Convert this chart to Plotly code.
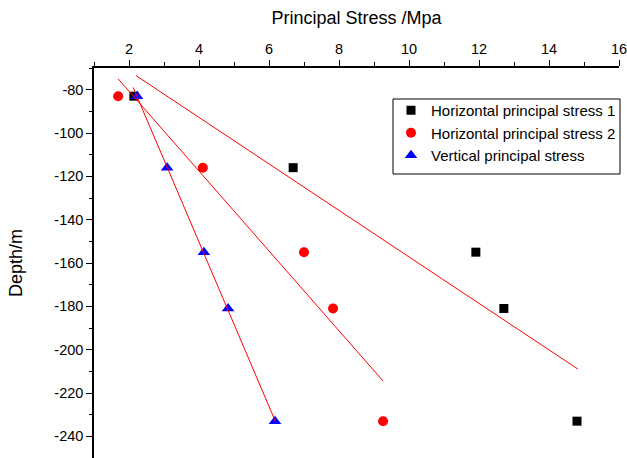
import plotly.graph_objects as go

# ---- data ----
depth = [-83, -116, -155, -181, -233]
h1_stress = [2.14, 6.69, 11.91, 12.71, 14.80]
h2_stress = [1.69, 4.11, 7.00, 7.83, 9.26]
v_stress = [2.23, 3.09, 4.14, 4.83, 6.17]

# fitted trend lines (endpoints)
fit_h1_x = [2.20, 14.83]
fit_h1_y = [-73.5, -209.0]
fit_h2_x = [1.69, 9.26]
fit_h2_y = [-75.0, -214.5]
fit_v_x = [2.12, 6.18]
fit_v_y = [-79.0, -233.0]

series_names = ["Horizontal principal stress 1",
                "Horizontal principal stress 2",
                "Vertical principal stress"]

x_ticks = [2, 4, 6, 8, 10, 12, 14, 16]
y_ticks = [-80, -100, -120, -140, -160, -180, -200, -220, -240]

FONT = "Liberation Sans, Arial, Helvetica, sans-serif"

fig = go.Figure()
fig.add_trace(go.Scatter(x=h1_stress, y=depth, mode="markers", name=series_names[0],
                         marker=dict(symbol="square", size=9, color="#000000")))
fig.add_trace(go.Scatter(x=h2_stress, y=depth, mode="markers", name=series_names[1],
                         marker=dict(symbol="circle", size=10, color="#FF0000")))
fig.add_trace(go.Scatter(x=v_stress, y=depth, mode="markers", name=series_names[2],
                         marker=dict(symbol="triangle-up", size=11, color="#0000FF")))

for fx, fy in [(fit_h1_x, fit_h1_y), (fit_h2_x, fit_h2_y), (fit_v_x, fit_v_y)]:
    fig.add_trace(go.Scatter(x=fx, y=fy, mode="lines", showlegend=False,
                             line=dict(color="#FF0000", width=1), hoverinfo="skip"))

L, R, T, B = 94, 8, 68, 0
W, H = 627, 458
pw, ph = W - L - R, H - T - B

def px_x(p):
    return (p - L) / pw

def px_y(p):
    return (H - B - p) / ph

fig.update_layout(
    width=W, height=H,
    margin=dict(l=L, r=R, t=T, b=B, pad=0, autoexpand=False),
    paper_bgcolor="white", plot_bgcolor="white",
    font=dict(family=FONT, size=14.5, color="black"),
    showlegend=True,
    legend=dict(x=px_x(391), y=px_y(94), xanchor="left", yanchor="top",
                bgcolor="rgba(0,0,0,0)", borderwidth=0,
                font=dict(family=FONT, size=15, color="black"),
                itemwidth=30, tracegroupgap=0),
    shapes=[dict(type="rect", xref="paper", yref="paper",
                 x0=px_x(393), x1=px_x(620), y0=px_y(174), y1=px_y(99),
                 line=dict(color="black", width=1), fillcolor="rgba(0,0,0,0)")],
)

fig.update_xaxes(
    side="top", range=[0.9999, 16.0001], tickvals=x_ticks, ticktext=[str(v) for v in x_ticks],
    ticks="outside", ticklen=6, tickwidth=1.3, tickcolor="black",
    minor=dict(ticks="outside", ticklen=4, tickwidth=1.3, tickcolor="black", dtick=1, tick0=0),
    showline=True, linecolor="black", linewidth=1.5, mirror=False,
    showgrid=False, zeroline=False, automargin=False, ticklabeloverflow="allow",
    tickfont=dict(family=FONT, size=14.5, color="black"),
    title=dict(text="Principal Stress /Mpa", font=dict(family=FONT, size=18, color="black"), standoff=12),
)
fig.update_yaxes(
    range=[-250, -70], tickvals=y_ticks, ticktext=[str(v) for v in y_ticks],
    ticks="outside", ticklen=6, tickwidth=1.3, tickcolor="black",
    minor=dict(ticks="outside", ticklen=3.5, tickwidth=1.3, tickcolor="black", dtick=10, tick0=0),
    showline=True, linecolor="black", linewidth=1.5, mirror=False,
    showgrid=False, zeroline=False, automargin=False, ticklabeloverflow="allow",
    tickfont=dict(family=FONT, size=14.5, color="black"),
    title=dict(text="Depth/m", font=dict(family=FONT, size=18, color="black"), standoff=27),
)

fig.write_html("out.html", config={"displayModeBar": False},
               post_script="document.body.style.margin='0px';document.body.style.overflow='hidden';")
